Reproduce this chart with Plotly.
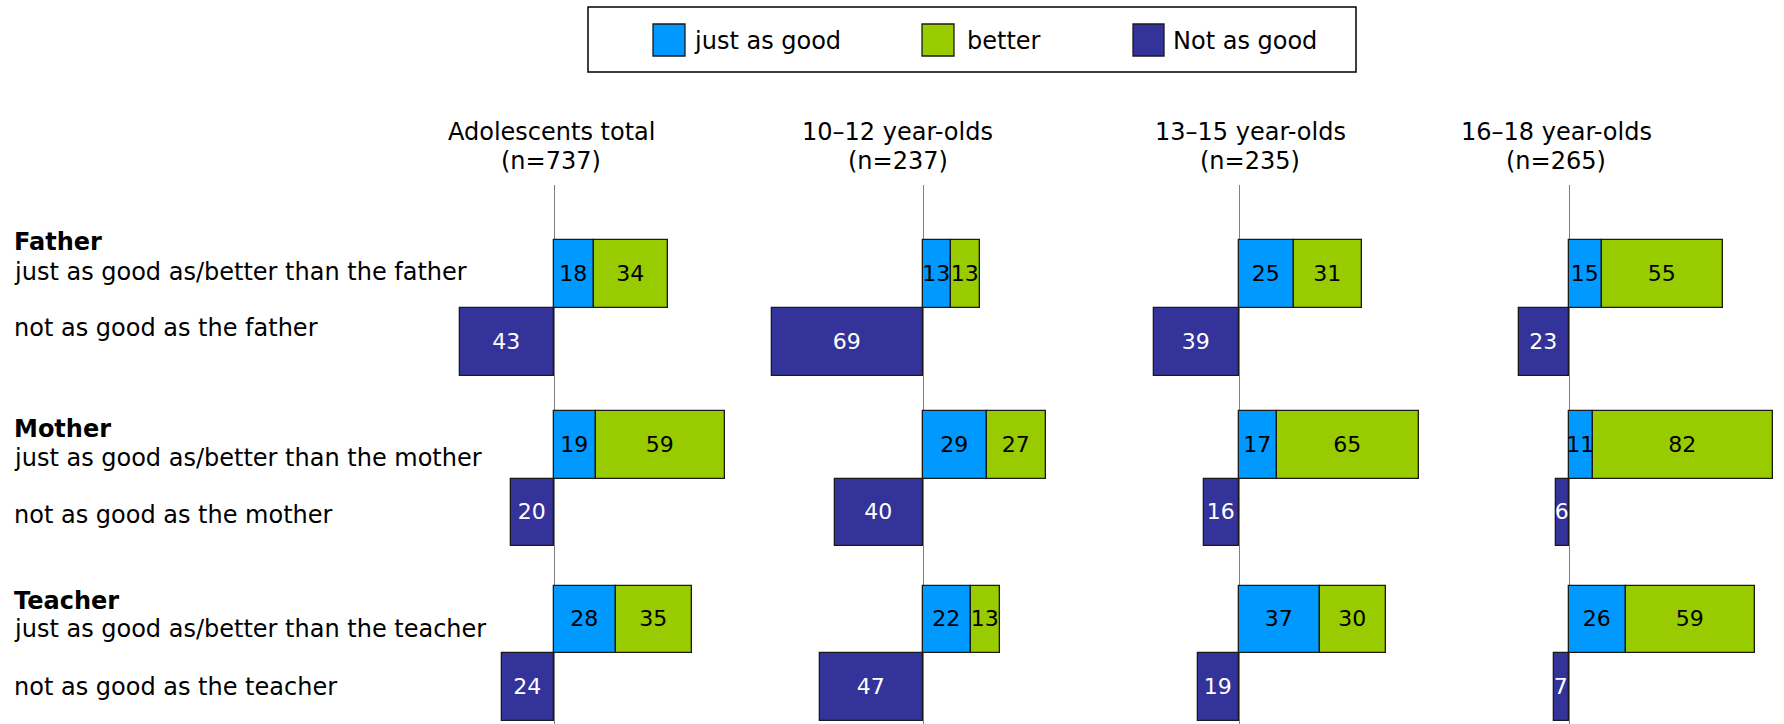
import plotly.graph_objects as go

# ---- data -------------------------------------------------------------
panel_titles = ["Adolescents total", "10–12 year-olds", "13–15 year-olds", "16–18 year-olds"]
panel_n = [737, 237, 235, 265]

groups = ["Father", "Mother", "Teacher"]
just_labels = [
    "just as good as/better than the father",
    "just as good as/better than the mother",
    "just as good as/better than the teacher",
]
not_labels = [
    "not as good as the father",
    "not as good as the mother",
    "not as good as the teacher",
]

# per panel, ordered Father, Mother, Teacher (percent)
just_as_good = [[18, 19, 28], [13, 29, 22], [25, 17, 37], [15, 11, 26]]
better = [[34, 59, 35], [13, 27, 13], [31, 65, 30], [55, 82, 59]]
not_as_good = [[43, 20, 24], [69, 40, 47], [39, 16, 19], [23, 6, 7]]

series_names = ["just as good", "better", "Not as good"]

# ---- styling / layout constants ---------------------------------------
W, H = 1784, 724
FONT = "DejaVu Sans"
FS = 24          # labels, headers, legend
FS_BAR = 22      # values inside the bars
COL = {"just as good": "#0099FF", "better": "#99CC00", "Not as good": "#333399"}
TXT = {"just as good": "black", "better": "black", "Not as good": "white"}
OUTLINE = dict(color="#1a1a1a", width=1.3)

GROUP_POS = [0.0, 2.52, 5.1]          # row of the "just as good / better" bar
PX_PER_UNIT = 2.19                     # horizontal pixels per percentage point
ZERO_PX = [554.3, 923.0, 1239.3, 1569.3]
DOMAIN_PX = [(380, 748), (748, 1100), (1100, 1450), (1450, 1784)]
PLOT_TOP_PX = 185
Y_RANGE = [6.644, -1.318]


def fx(px):
    return px / W


def fy(py):
    return 1 - py / H


fig = go.Figure()

for p in range(4):
    sfx = "" if p == 0 else str(p + 1)
    xa, ya = "x" + sfx, "y" + sfx
    ypos_just = GROUP_POS
    ypos_not = [g + 1 for g in GROUP_POS]
    for name, vals, ys, sign in [
        ("just as good", just_as_good[p], ypos_just, 1),
        ("better", better[p], ypos_just, 1),
        ("Not as good", not_as_good[p], ypos_not, -1),
    ]:
        fig.add_trace(go.Bar(
            x=[sign * v for v in vals], y=ys, orientation="h", width=1,
            name=name, showlegend=False,
            marker=dict(color=COL[name], line=OUTLINE),
            text=[str(v) for v in vals],
            textposition="inside", insidetextanchor="middle",
            textangle=0, constraintext="none",
            textfont=dict(family=FONT, size=FS_BAR, color=TXT[name]),
            xaxis=xa, yaxis=ya, cliponaxis=False,
        ))

    d0, d1 = DOMAIN_PX[p]
    z = ZERO_PX[p]
    fig.layout["xaxis" + sfx] = dict(
        domain=[fx(d0), fx(d1)],
        range=[(d0 - z) / PX_PER_UNIT, (d1 - z) / PX_PER_UNIT],
        anchor=ya, showgrid=False, showticklabels=False, ticks="",
        showline=False, zeroline=True, zerolinecolor="#808080", zerolinewidth=1,
        fixedrange=True,
    )
    fig.layout["yaxis" + sfx] = dict(
        domain=[0, fy(PLOT_TOP_PX)], range=Y_RANGE, anchor=xa,
        showgrid=False, showticklabels=False, ticks="", showline=False,
        zeroline=False, fixedrange=True,
    )

annotations = []

# panel headers
HEAD_X = [551, 898, 1250, 1556]
for p in range(4):
    for txt, yy in [(panel_titles[p], 132), (f"(n={panel_n[p]})", 161)]:
        annotations.append(dict(
            x=fx(HEAD_X[p]), y=fy(yy), xref="paper", yref="paper",
            text=txt, showarrow=False,
            xanchor="center", yanchor="middle", align="center",
            font=dict(family=FONT, size=FS, color="black"),
        ))

# row labels on the left
NAME_Y = [242, 429, 601]
JUST_Y = [272, 458, 629]
NOT_Y = [328, 515, 687]
for g in range(3):
    for txt, yy in [(f"<b>{groups[g]}</b>", NAME_Y[g]),
                    (just_labels[g], JUST_Y[g]),
                    (not_labels[g], NOT_Y[g])]:
        annotations.append(dict(
            x=fx(12), y=fy(yy), xref="paper", yref="paper", text=txt,
            showarrow=False, xanchor="left", yanchor="middle",
            font=dict(family=FONT, size=FS, color="black"),
        ))

# legend box with swatches
shapes = [dict(type="rect", xref="paper", yref="paper",
               x0=fx(588), x1=fx(1356), y0=fy(7), y1=fy(72),
               line=dict(color="black", width=1.5), fillcolor="white")]
LEG_SW = [(653, 685), (922, 954), (1133, 1164)]
LEG_TX = [692, 965, 1171]
for name, (s0, s1), tx in zip(series_names, LEG_SW, LEG_TX):
    shapes.append(dict(type="rect", xref="paper", yref="paper",
                       x0=fx(s0), x1=fx(s1), y0=fy(24), y1=fy(56),
                       line=dict(color="#1a1a1a", width=1.3), fillcolor=COL[name]))
    annotations.append(dict(
        x=fx(tx), y=fy(41), xref="paper", yref="paper", text=name,
        showarrow=False, xanchor="left", yanchor="middle",
        font=dict(family=FONT, size=FS, color="black"),
    ))

fig.update_layout(
    width=W, height=H, margin=dict(l=0, r=0, t=0, b=0),
    barmode="relative", bargap=0,
    paper_bgcolor="white", plot_bgcolor="rgba(0,0,0,0)",
    annotations=annotations, shapes=shapes,
    font=dict(family=FONT, size=FS, color="black"),
)

fig.write_html("out.html")
